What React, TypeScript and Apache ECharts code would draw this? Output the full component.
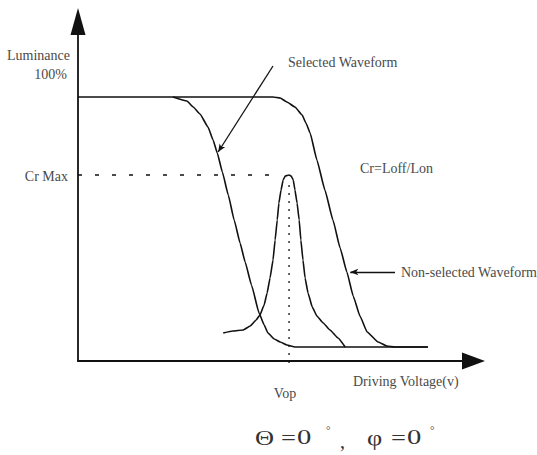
import React, { useEffect, useRef } from "react";
import * as echarts from "echarts";

// axis ranges (luminance %, driving voltage arbitrary units)
const xRange = [0, 9.37];
const yRange = [-5.6, 130.2];
const crMax = 68.8;
const vop = 5.0;

// Selected waveform: luminance vs driving voltage
const selectedWaveform: number[][] = [
  [2.25, 100], [2.58, 98.4], [2.73, 96], [2.89, 93.2], [3.08, 88], [3.2, 82.8],
  [3.3, 77.6], [3.42, 70], [3.56, 60.8], [3.7, 50.8], [3.84, 41.6], [3.96, 34],
  [4.11, 24.8], [4.29, 13.6], [4.41, 8.8], [4.5, 5.6], [4.65, 3.2], [4.79, 2],
  [4.95, 0.8], [5.14, 0], [8.29, 0],
];

// Non-selected waveform (starts at the 100% level from the axis)
const nonSelectedWaveform: number[][] = [
  [0, 100], [4.62, 100], [4.79, 99.6], [4.95, 98], [5.14, 96], [5.31, 92.8],
  [5.4, 89.6], [5.5, 85.6], [5.66, 74.8], [5.85, 62.8], [6.04, 50.8], [6.21, 39.6],
  [6.37, 30], [6.52, 20.4], [6.68, 12.4], [6.85, 6], [7.11, 2], [7.32, 0.4],
  [7.51, 0], [8.29, 0],
];

// Contrast ratio curve Cr = Loff/Lon
const contrastCurve: number[][] = [
  [3.44, 5.6], [3.67, 6.4], [3.91, 6.8], [4.08, 8.4], [4.22, 10.8], [4.31, 12.8],
  [4.41, 16.8], [4.48, 21.6], [4.55, 27.6], [4.62, 34.8], [4.67, 42.8], [4.72, 50.8],
  [4.76, 57.6], [4.81, 62.8], [4.86, 66.8], [4.91, 68.4], [5.0, 68.8], [5.05, 68.4],
  [5.1, 66.8], [5.14, 62.8], [5.19, 57.6], [5.24, 50.8], [5.28, 42.8], [5.33, 34.8],
  [5.38, 27.6], [5.45, 21.6], [5.55, 16], [5.66, 12.4], [5.81, 9.6], [5.97, 6.8],
  [6.16, 3.6], [6.33, 0],
];

const crMaxGuide: number[][] = [[0, crMax], [4.7, crMax]];
const vopGuide: number[][] = [[vop, 64.8], [vop, -7.2]];
const selectedPointer: number[][] = [[4.62, 112.4], [3.32, 78]];
const nonSelectedPointer: number[][] = [[7.51, 30], [6.45, 30]];

const INK = "#111";
const TEXT = "#4a4a4a";
const SERIF = '"Liberation Serif", "Times New Roman", serif';

function label(
  text: string, x: number, y: number, align = "left", size = 14,
  family = SERIF, scaleX = 1, fill = TEXT,
) {
  return {
    type: "text",
    x,
    y,
    scaleX,
    silent: true,
    style: {
      text,
      fill,
      font: `${size}px ${family}`,
      textAlign: align,
      textVerticalAlign: "middle",
    },
  };
}

export default function App() {
  const ref = useRef<HTMLDivElement>(null);
  useEffect(() => {
    if (!ref.current) return;
    const chart = echarts.init(ref.current, undefined, { renderer: "svg" });
    const curve = (data: number[][]) => ({
      type: "line",
      data,
      symbol: "none",
      smooth: 0.12,
      smoothMonotone: "x",
      silent: true,
      lineStyle: { color: INK, width: 1.6 },
    });
    const pointer = (pts: number[][]) => ({
      silent: true,
      symbol: ["none", "arrow"],
      symbolSize: [5, 8],
      label: { show: false },
      lineStyle: { color: INK, width: 1.3, type: "solid" },
      data: [[{ coord: pts[0] }, { coord: pts[1] }]],
    });
    const B = "#333";
    chart.setOption({
      animation: false,
      backgroundColor: "#fff",
      grid: { left: 78, right: 63.5, top: 21.5, bottom: 94 },
      xAxis: {
        type: "value",
        min: xRange[0],
        max: xRange[1],
        axisLine: {
          onZero: false,
          lineStyle: { color: INK, width: 1.8 },
          symbol: ["none", "triangle"],
          symbolSize: [17, 23],
        },
        axisTick: { show: false },
        axisLabel: { show: false },
        splitLine: { show: false },
      },
      yAxis: {
        type: "value",
        min: yRange[0],
        max: yRange[1],
        axisLine: {
          show: true,
          onZero: false,
          lineStyle: { color: INK, width: 1.8 },
          symbol: ["none", "triangle"],
          symbolSize: [15, 27],
        },
        axisTick: { show: false },
        axisLabel: { show: false },
        splitLine: { show: false },
      },
      series: [
        { ...curve(nonSelectedWaveform), markLine: pointer(nonSelectedPointer) },
        { ...curve(selectedWaveform), markLine: pointer(selectedPointer) },
        curve(contrastCurve),
        {
          type: "line",
          data: crMaxGuide,
          symbol: "none",
          silent: true,
          clip: false,
          lineStyle: { color: INK, width: 1.3, type: [4, 13] },
        },
        {
          type: "line",
          data: vopGuide,
          symbol: "none",
          silent: true,
          clip: false,
          lineStyle: { color: INK, width: 1.3, type: [2, 6] },
        },
      ],
      graphic: [
        label("Luminance", 70, 55, "right"),
        label("100%", 67, 74, "right"),
        label("Cr Max", 68, 176, "right"),
        label("Selected Waveform", 288, 62),
        label("Cr=Loff/Lon", 360, 168),
        label("Non-selected Waveform", 401, 272),
        label("Driving Voltage(v)", 353, 381),
        label("Vop", 285, 393, "center"),
        label("Θ", 255, 437, "left", 22, SERIF, 1.2, B),
        label("=", 281, 437, "left", 22, SERIF, 1.2, B),
        label("0", 297, 437, "left", 22, SERIF, 1.3, B),
        label("°", 326, 430, "left", 11, SERIF, 1, B),
        label(",", 340, 441, "left", 20, SERIF, 1, B),
        label("φ", 367, 437, "left", 22, SERIF, 1.2, B),
        label("=", 391, 437, "left", 22, SERIF, 1.2, B),
        label("0", 407, 437, "left", 22, SERIF, 1.3, B),
        label("°", 430, 430, "left", 11, SERIF, 1, B),
      ],
    });
    return () => chart.dispose();
  }, []);
  return (
    <div
      ref={ref}
      style={{ position: "absolute", left: 0, top: 0, width: 537, height: 455, background: "#fff" }}
    />
  );
}
